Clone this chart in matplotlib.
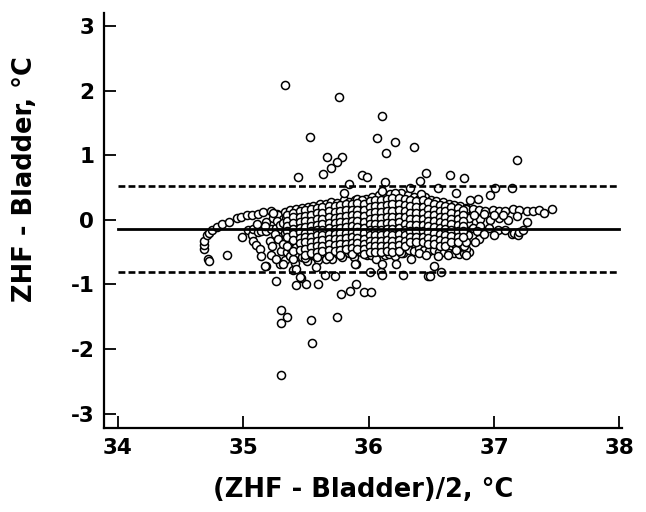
import matplotlib
matplotlib.use("Agg")
import matplotlib.pyplot as plt
import numpy as np

plt.rcParams['font.family'] = ['DejaVu Sans']
plt.rcParams['font.weight'] = 'bold'
plt.rcParams['axes.unicode_minus'] = False

# ---- data: (mean, difference) pairs ----
tail = [
    (34.72, -0.60), (34.73, -0.63), (34.69, -0.45), (34.69, -0.39), (34.69, -0.32), (34.71, -0.24),
    (34.73, -0.20), (34.75, -0.15), (34.79, -0.11), (34.83, -0.06), (34.89, -0.04), (34.95, 0.03),
    (34.98, 0.04), (35.03, 0.07), (35.07, 0.08), (35.12, 0.09), (35.16, 0.12), (35.22, 0.14),
    (35.27, 0.09), (35.32, 0.07), (34.87, -0.54), (34.99, -0.27),
    (35.04, -0.16), (35.07, -0.24), (35.08, -0.32), (35.10, -0.39), (35.13, -0.45), (35.14, -0.56),
    (35.18, -0.72), (35.22, -0.54), (35.21, -0.33), (35.29, -0.68), (35.26, -0.94),
    (35.08, -0.14), (35.12, -0.19), (35.14, -0.17), (35.18, -0.17), (35.22, -0.14), (35.26, -0.13),
    (35.30, -0.14), (35.34, -0.17), (35.18, -0.04), (35.24, 0.03), (35.28, 0.07), (35.32, 0.02),
    (35.36, 0.04), (35.17, -0.10), (35.11, -0.06), (35.24, 0.10), (35.27, -0.02), (35.29, -0.08),
    (35.25, -0.22), (35.28, -0.30), (35.23, -0.40), (35.30, -0.48), (35.26, -0.60),
]

band_a = [
    (35.33, 0.12), (35.34, 0.03), (35.32, -0.05), (35.35, -0.13), (35.33, -0.21), (35.34, -0.30), (35.32, -0.38), (35.35, -0.50), (35.33, -0.62),
    (35.37, 0.15), (35.38, 0.06), (35.39, -0.02), (35.37, -0.10), (35.38, -0.19), (35.39, -0.27), (35.37, -0.35), (35.38, -0.45), (35.37, -0.56),
    (35.42, 0.17), (35.43, 0.08), (35.41, 0.00), (35.43, -0.08), (35.42, -0.16), (35.41, -0.25), (35.44, -0.33), (35.42, -0.42), (35.43, -0.52), (35.41, -0.66),
    (35.47, 0.19), (35.46, 0.10), (35.48, 0.01), (35.47, -0.07), (35.46, -0.15), (35.48, -0.23), (35.47, -0.31), (35.46, -0.40), (35.48, -0.50), (35.47, -0.58),
    (35.52, 0.20), (35.51, 0.12), (35.53, 0.03), (35.52, -0.05), (35.51, -0.14), (35.53, -0.22), (35.52, -0.30), (35.51, -0.38), (35.53, -0.47), (35.52, -0.56), (35.51, -0.63),
    (35.56, 0.22), (35.57, 0.13), (35.56, 0.05), (35.57, -0.04), (35.55, -0.12), (35.57, -0.20), (35.56, -0.29), (35.57, -0.37), (35.55, -0.46), (35.56, -0.54),
    (35.61, 0.24), (35.60, 0.14), (35.62, 0.06), (35.61, -0.03), (35.60, -0.11), (35.62, -0.19), (35.61, -0.28), (35.60, -0.36), (35.62, -0.44), (35.61, -0.53), (35.60, -0.62),
    (35.66, 0.25), (35.65, 0.16), (35.67, 0.07), (35.66, -0.02), (35.65, -0.10), (35.67, -0.18), (35.66, -0.27), (35.65, -0.35), (35.67, -0.43), (35.66, -0.52),
    (35.70, 0.28), (35.71, 0.18), (35.70, 0.09), (35.71, 0.00), (35.69, -0.08), (35.71, -0.17), (35.70, -0.25), (35.71, -0.33), (35.69, -0.42), (35.70, -0.51), (35.71, -0.60),
]

band_b = [
    (35.75, 0.26), (35.74, 0.17), (35.76, 0.08), (35.75, -0.01), (35.74, -0.09), (35.76, -0.18), (35.75, -0.26), (35.74, -0.34), (35.76, -0.43), (35.75, -0.52),
    (35.80, 0.30), (35.79, 0.20), (35.81, 0.11), (35.80, 0.02), (35.79, -0.07), (35.81, -0.15), (35.80, -0.24), (35.79, -0.32), (35.81, -0.41), (35.80, -0.50), (35.79, -0.58),
    (35.84, 0.27), (35.85, 0.18), (35.84, 0.09), (35.85, 0.00), (35.83, -0.08), (35.85, -0.17), (35.84, -0.25), (35.85, -0.34), (35.83, -0.42), (35.84, -0.51),
    (35.89, 0.31), (35.88, 0.22), (35.90, 0.12), (35.89, 0.03), (35.88, -0.06), (35.90, -0.14), (35.89, -0.23), (35.88, -0.31), (35.90, -0.40), (35.89, -0.48), (35.88, -0.57),
    (35.94, 0.28), (35.93, 0.19), (35.95, 0.10), (35.94, 0.01), (35.93, -0.08), (35.95, -0.16), (35.94, -0.25), (35.93, -0.33), (35.95, -0.42), (35.94, -0.50),
    (35.98, 0.33), (35.99, 0.23), (35.98, 0.14), (35.99, 0.05), (35.97, -0.04), (35.99, -0.13), (35.98, -0.21), (35.99, -0.30), (35.97, -0.38), (35.98, -0.47), (35.99, -0.55),
    (36.03, 0.35), (36.02, 0.25), (36.04, 0.16), (36.03, 0.07), (36.02, -0.02), (36.04, -0.11), (36.03, -0.20), (36.02, -0.28), (36.04, -0.37), (36.03, -0.45), (36.02, -0.54),
    (36.08, 0.38), (36.07, 0.27), (36.09, 0.18), (36.08, 0.08), (36.07, -0.01), (36.09, -0.10), (36.08, -0.19), (36.07, -0.27), (36.09, -0.36), (36.08, -0.44), (36.07, -0.52),
    (36.12, 0.36), (36.13, 0.26), (36.12, 0.16), (36.13, 0.06), (36.11, -0.03), (36.13, -0.12), (36.12, -0.21), (36.13, -0.29), (36.11, -0.38), (36.12, -0.46), (36.13, -0.55),
]

band_c = [
    (36.17, 0.40), (36.16, 0.29), (36.18, 0.19), (36.17, 0.09), (36.16, 0.00), (36.18, -0.09), (36.17, -0.18), (36.16, -0.27), (36.18, -0.35), (36.17, -0.44), (36.16, -0.53),
    (36.22, 0.37), (36.21, 0.27), (36.23, 0.17), (36.22, 0.07), (36.21, -0.02), (36.23, -0.11), (36.22, -0.20), (36.21, -0.29), (36.23, -0.37), (36.22, -0.46), (36.21, -0.56),
    (36.26, 0.41), (36.27, 0.30), (36.26, 0.20), (36.27, 0.10), (36.25, 0.01), (36.27, -0.08), (36.26, -0.17), (36.27, -0.26), (36.25, -0.34), (36.26, -0.43), (36.27, -0.52),
    (36.31, 0.38), (36.30, 0.28), (36.32, 0.18), (36.31, 0.08), (36.30, -0.01), (36.32, -0.10), (36.31, -0.19), (36.30, -0.28), (36.32, -0.36), (36.31, -0.45),
    (36.36, 0.36), (36.35, 0.26), (36.37, 0.16), (36.36, 0.06), (36.35, -0.03), (36.37, -0.12), (36.36, -0.21), (36.35, -0.30), (36.37, -0.38),
    (36.40, 0.33), (36.41, 0.24), (36.40, 0.14), (36.41, 0.05), (36.39, -0.04), (36.41, -0.13), (36.40, -0.22), (36.41, -0.31),
    (36.45, 0.35), (36.44, 0.25), (36.46, 0.15), (36.45, 0.06), (36.44, -0.03), (36.46, -0.12), (36.45, -0.21), (36.44, -0.30),
    (36.50, 0.31), (36.49, 0.22), (36.51, 0.12), (36.50, 0.03), (36.49, -0.06), (36.51, -0.15), (36.50, -0.24), (36.49, -0.33),
    (36.54, 0.29), (36.55, 0.20), (36.54, 0.11), (36.55, 0.02), (36.53, -0.07), (36.55, -0.16), (36.54, -0.25), (36.55, -0.34),
    (36.59, 0.27), (36.58, 0.18), (36.60, 0.09), (36.59, 0.00), (36.58, -0.09), (36.60, -0.18), (36.59, -0.27), (36.58, -0.36),
    (36.64, 0.25), (36.63, 0.17), (36.65, 0.08), (36.64, -0.01), (36.63, -0.10), (36.65, -0.19), (36.64, -0.28),
    (36.68, 0.23), (36.69, 0.15), (36.68, 0.06), (36.69, -0.03), (36.67, -0.12), (36.69, -0.21), (36.68, -0.30), (36.69, -0.38),
    (36.73, 0.21), (36.72, 0.13), (36.74, 0.05), (36.73, -0.04), (36.72, -0.13), (36.74, -0.22), (36.73, -0.31),
    (36.78, 0.19), (36.77, 0.11), (36.79, 0.03), (36.78, -0.05), (36.77, -0.14), (36.79, -0.23),
]

# second, interleaved layer of the dense band: (mean, [differences])
band_offset_cols = [
    (35.35, [0.08, -0.01, -0.09, -0.17, -0.26, -0.41]),
    (35.40, [0.11, 0.04, -0.05, -0.14, -0.22, -0.31, -0.48]),
    (35.45, [0.14, 0.05, -0.03, -0.12, -0.19, -0.28, -0.36, -0.46]),
    (35.49, [0.15, 0.06, -0.02, -0.11, -0.20, -0.27, -0.35, -0.45, -0.54]),
    (35.54, [0.17, 0.08, -0.01, -0.09, -0.18, -0.26, -0.34, -0.42, -0.51]),
    (35.59, [0.19, 0.10, 0.01, -0.08, -0.16, -0.24, -0.32, -0.41, -0.49, -0.57]),
    (35.63, [0.20, 0.11, 0.02, -0.07, -0.15, -0.23, -0.31, -0.40, -0.48]),
    (35.68, [0.22, 0.13, 0.04, -0.05, -0.13, -0.22, -0.30, -0.38, -0.47, -0.56]),
    (35.73, [0.22, 0.12, 0.03, -0.05, -0.14, -0.22, -0.30, -0.39, -0.48]),
    (35.77, [0.23, 0.14, 0.05, -0.04, -0.12, -0.21, -0.29, -0.37, -0.46, -0.54]),
    (35.82, [0.24, 0.15, 0.06, -0.03, -0.11, -0.20, -0.28, -0.37, -0.45]),
    (35.87, [0.25, 0.16, 0.07, -0.02, -0.10, -0.19, -0.27, -0.36, -0.44, -0.53]),
    (35.91, [0.26, 0.16, 0.07, -0.02, -0.11, -0.19, -0.28, -0.36, -0.45]),
    (35.96, [0.25, 0.15, 0.06, -0.03, -0.12, -0.20, -0.29, -0.37, -0.45, -0.53]),
    (36.01, [0.29, 0.20, 0.11, 0.02, -0.07, -0.15, -0.24, -0.33, -0.41, -0.50]),
    (36.05, [0.31, 0.21, 0.12, 0.03, -0.06, -0.15, -0.23, -0.32, -0.40, -0.49]),
    (36.10, [0.31, 0.22, 0.12, 0.03, -0.06, -0.15, -0.24, -0.32, -0.41, -0.49]),
    (36.15, [0.33, 0.23, 0.14, 0.04, -0.05, -0.14, -0.22, -0.31, -0.40, -0.48]),
    (36.19, [0.34, 0.24, 0.14, 0.04, -0.05, -0.14, -0.23, -0.32, -0.40, -0.49]),
    (36.24, [0.34, 0.24, 0.15, 0.05, -0.04, -0.13, -0.22, -0.31, -0.39, -0.48]),
    (36.29, [0.33, 0.23, 0.13, 0.04, -0.06, -0.15, -0.24, -0.32, -0.40]),
    (36.33, [0.31, 0.21, 0.11, 0.01, -0.08, -0.17, -0.26, -0.34]),
    (36.38, [0.29, 0.20, 0.10, 0.01, -0.08, -0.17, -0.26, -0.35]),
    (36.43, [0.30, 0.20, 0.10, 0.01, -0.08, -0.17, -0.26, -0.35]),
    (36.47, [0.27, 0.17, 0.08, -0.01, -0.10, -0.19, -0.28, -0.37]),
    (36.52, [0.25, 0.16, 0.07, -0.02, -0.11, -0.20, -0.29, -0.38]),
    (36.57, [0.23, 0.14, 0.05, -0.04, -0.13, -0.22, -0.31, -0.40]),
    (36.61, [0.22, 0.13, 0.04, -0.05, -0.14, -0.23, -0.32, -0.41]),
    (36.66, [0.20, 0.11, 0.02, -0.07, -0.16, -0.25, -0.34]),
    (36.71, [0.18, 0.09, 0.01, -0.08, -0.17, -0.26, -0.35]),
    (36.75, [0.16, 0.08, -0.01, -0.09, -0.18, -0.27]),
]

hook = [
    (36.28, -0.42), (36.32, -0.47), (36.36, -0.48), (36.40, -0.44), (36.44, -0.46), (36.48, -0.48), (36.52, -0.47),
    (36.56, -0.49), (36.60, -0.50), (36.64, -0.51), (36.68, -0.52), (36.72, -0.53), (36.76, -0.52), (36.80, -0.50),
    (36.40, -0.52), (36.46, -0.55), (36.55, -0.56), (36.63, -0.54), (36.70, -0.46), (36.78, -0.45), (36.78, -0.54),
    (36.76, -0.40), (36.78, -0.34),
]

right_end = [
    (36.78, 0.17), (36.83, 0.17), (36.88, 0.15), (36.93, 0.14), (36.99, 0.15), (37.04, 0.14), (37.09, 0.14),
    (37.15, 0.17), (37.20, 0.15), (37.26, 0.14), (37.31, 0.14), (37.36, 0.16), (37.40, 0.10), (37.46, 0.17),
    (36.74, -0.01), (36.79, -0.05), (36.80, 0.03), (36.89, 0.02), (36.97, 0.00), (37.04, 0.03), (37.11, 0.00),
    (37.26, -0.03), (36.84, 0.08), (36.92, 0.09), (37.00, 0.07), (37.07, 0.08), (37.18, 0.06),
    (36.76, -0.14), (36.83, -0.12), (36.89, -0.10), (36.96, -0.13), (37.03, -0.16), (37.09, -0.16), (37.14, -0.22),
    (37.16, -0.21), (37.19, -0.24), (37.20, -0.19), (37.23, -0.16), (36.86, -0.18), (36.88, -0.29), (36.85, -0.35),
    (36.92, -0.22), (37.00, -0.24),
]

upper_scatter = [
    (35.80, 0.41), (35.91, 0.33), (35.95, 0.30), (36.13, 0.58), (36.11, 0.45), (36.21, 0.41), (36.33, 0.49),
    (36.41, 0.60), (36.42, 0.40), (36.55, 0.49), (36.70, 0.41), (36.87, 0.33), (36.81, 0.31), (36.97, 0.39),
    (37.01, 0.49), (37.14, 0.49), (35.84, 0.56), (36.46, 0.73), (36.65, 0.70), (36.76, 0.65),
]

outliers_high = [
    (35.33, 2.09), (35.76, 1.90), (36.11, 1.60), (35.53, 1.28), (36.07, 1.27), (36.21, 1.20), (36.36, 1.13),
    (36.14, 1.04), (35.67, 0.98), (35.79, 0.98), (35.75, 0.89), (35.70, 0.80), (37.18, 0.92), (35.44, 0.67),
    (35.64, 0.71), (35.95, 0.69), (35.99, 0.66),
]

outliers_low = [
    (35.30, -1.40), (35.35, -1.50), (35.30, -1.60), (35.54, -1.55), (35.75, -1.50), (35.55, -1.90), (35.30, -2.40),
    (35.42, -1.01), (35.50, -1.00), (35.60, -1.00), (35.78, -1.14), (35.85, -1.10), (35.90, -1.00),
    (35.96, -1.11), (36.02, -1.11), (35.46, -0.90), (35.65, -0.86), (35.73, -0.87),
]

lower_band = [
    (35.40, -0.60), (35.40, -0.77), (35.45, -0.88), (35.32, -0.68), (35.42, -0.76), (35.58, -0.73), (35.90, -0.68),
    (35.49, -0.59), (35.57, -0.56), (35.66, -0.61), (35.77, -0.47), (35.86, -0.50), (35.98, -0.51), (35.89, -0.68),
    (36.01, -0.80), (36.10, -0.81), (36.11, -0.86), (36.27, -0.86), (36.47, -0.87), (36.52, -0.72), (36.58, -0.81),
    (36.06, -0.60), (36.22, -0.68), (36.34, -0.60), (36.26, -0.52), (36.49, -0.87), (36.11, -0.68),
    (35.17, -0.71),
]

bias = -0.14
upper_loa = 0.525
lower_loa = -0.80

x_ticks = [34, 35, 36, 37, 38]
y_ticks = [-3, -2, -1, 0, 1, 2, 3]
x_label = "(ZHF - Bladder)/2, \u00b0C"
y_label = "ZHF - Bladder, \u00b0C"

groups = [tail, band_a, band_b, band_c, hook, right_end, upper_scatter,
          outliers_high, outliers_low, lower_band]
pairs = [p for g in groups for p in g]
pairs += [(x, y) for x, ys in band_offset_cols for y in ys]
pts = np.array(pairs)
mean_vals = pts[:, 0]
diff_vals = pts[:, 1]

fig = plt.figure(figsize=(6.46, 5.12), dpi=100)
ax = fig.add_axes([104 / 646, 1 - 428 / 512, 518 / 646, 415 / 512])

ax.plot(mean_vals, diff_vals, linestyle='none', marker='o', markersize=5.8,
        markerfacecolor='white', markeredgecolor='black', markeredgewidth=1.1, zorder=2)

ax.plot([34, 38], [bias, bias], color='black', lw=2.0, zorder=3)
ax.plot([34, 38], [upper_loa, upper_loa], color='black', lw=1.9, ls=(0, (2.6, 1.2)), zorder=3)
ax.plot([34, 38], [lower_loa, lower_loa], color='black', lw=1.9, ls=(0, (2.6, 1.2)), zorder=3)

ax.set_xlim(33.89, 38.02)
ax.set_ylim(-3.22, 3.2)
ax.set_xticks(x_ticks)
ax.set_yticks(y_ticks)
ax.set_xticklabels([str(v) for v in x_ticks])
ax.set_yticklabels([str(v) for v in y_ticks])

for s in ['top', 'right']:
    ax.spines[s].set_visible(False)
for s in ['left', 'bottom']:
    ax.spines[s].set_linewidth(1.6)

ax.tick_params(axis='both', direction='in', length=8.5, width=1.3, labelsize=15.5, pad=7)
for lab in ax.get_xticklabels() + ax.get_yticklabels():
    lab.set_fontweight('bold')

ax.set_xlabel(x_label, fontsize=18.5, fontweight='bold')
ax.set_ylabel(y_label, fontsize=18.5, fontweight='bold')
ax.xaxis.set_label_coords(0.5, -0.118)
ax.yaxis.set_label_coords(-0.128, 0.60)

fig.savefig("out.png", dpi=100)
